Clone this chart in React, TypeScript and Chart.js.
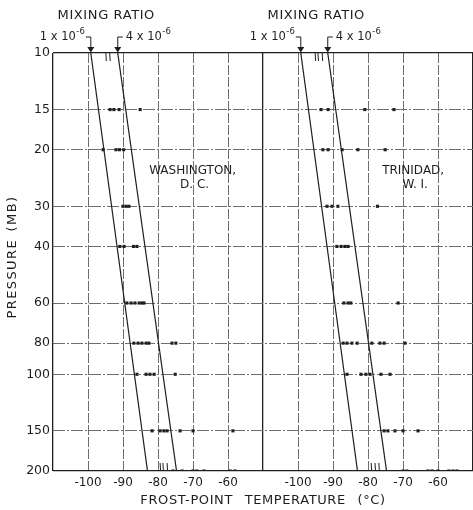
import React, { useEffect, useRef } from 'react';
import { Chart, registerables } from 'chart.js';

Chart.register(...registerables);

// ---------- data ----------
const pressureLevels = [10, 15, 20, 30, 40, 60, 80, 100, 150, 200];
const tempTicks = [-100, -90, -80, -70, -60];
const PANEL_MIN = -110;
const PANEL_SPAN = 60;

const xTitle = 'FROST-POINT TEMPERATURE (°C)';
const yTitle = 'PRESSURE (MB)';
const mixingTitle = 'MIXING RATIO';
const panelNames = [
  ['WASHINGTON,', 'D. C.'],
  ['TRINIDAD,', 'W. I.'],
];

// constant mixing-ratio lines: temperature at 10 mb and at 200 mb
const mixingPressures = [10, 200];
const ratio1Temps = [-99.2, -83.0];
const ratio4Temps = [-91.5, -74.7];

// short intermediate mixing-ratio marks at top / bottom borders
const topMarks = [
  [-94.9, -93.8],
  [-95.1, -94.3, -93.1],
];
const bottomMarks = [
  [-79.4, -78.6, -77.4],
  [-79.1, -78.0, -76.9],
];

// observations [pressure mb, frost point °C]
const washingtonObs: [number, number][] = [
  [15, -93.7], [15, -92.6], [15, -91.1], [15, -85.1],
  [20, -95.7], [20, -92.0], [20, -91.0], [20, -89.8],
  [30, -90.0], [30, -89.1], [30, -88.3],
  [40, -90.9], [40, -89.7], [40, -87.0], [40, -86.0],
  [60, -88.9], [60, -87.7], [60, -86.6], [60, -85.4], [60, -84.6], [60, -84.0],
  [80, -86.9], [80, -85.7], [80, -84.6], [80, -83.4], [80, -82.6], [80, -76.0], [80, -74.9],
  [100, -86.0], [100, -83.4], [100, -82.3], [100, -81.1], [100, -75.1],
  [150, -81.7], [150, -79.4], [150, -78.3], [150, -77.4], [150, -73.7], [150, -70.0], [150, -58.6],
  [200, -75.7], [200, -73.1], [200, -70.0], [200, -68.9], [200, -66.9], [200, -59.4], [200, -58.0],
];

const trinidadObs: [number, number][] = [
  [15, -93.4], [15, -91.4], [15, -80.9], [15, -72.6],
  [20, -92.9], [20, -91.4], [20, -87.4], [20, -82.9], [20, -75.1],
  [30, -91.7], [30, -90.3], [30, -88.6], [30, -77.3],
  [40, -88.9], [40, -87.7], [40, -86.6], [40, -85.7],
  [60, -86.9], [60, -85.7], [60, -84.9], [60, -71.4],
  [80, -87.1], [80, -86.0], [80, -84.6], [80, -83.1], [80, -78.9], [80, -76.6], [80, -75.4], [80, -69.4],
  [100, -86.0], [100, -82.0], [100, -80.6], [100, -79.4], [100, -76.3], [100, -73.7],
  [150, -75.4], [150, -74.3], [150, -72.3], [150, -70.0], [150, -65.7],
  [200, -70.0], [200, -68.9], [200, -62.9], [200, -61.7], [200, -60.0], [200, -56.9], [200, -55.7], [200, -54.6],
];

const panelObs = [washingtonObs, trinidadObs];

// ---------- helpers ----------
const toU = (t: number, panel: number) => t - PANEL_MIN + panel * PANEL_SPAN;
const INK = '#1e1e1e';
const GRID = '#6e6e6e';
const FONT = '"DejaVu Sans", sans-serif';

const xTickValues = [0, PANEL_SPAN, 2 * PANEL_SPAN]
  .concat(tempTicks.map((t) => toU(t, 0)))
  .concat(tempTicks.map((t) => toU(t, 1)))
  .sort((a, b) => a - b);

const isXFrame = (c: any) => c.tick && c.tick.value % PANEL_SPAN === 0;
const isYFrame = (c: any) => c.tick && (c.tick.value === 10 || c.tick.value === 200);

function spaced(ctx: any, letter: string, word: string) {
  ctx.letterSpacing = letter;
  ctx.wordSpacing = word;
}

function drawSci(ctx: CanvasRenderingContext2D, mant: string, x: number, base: number, align: 'left' | 'right') {
  const main = `${mant} x 10`;
  const sup = '-6';
  ctx.font = `11.5px ${FONT}`;
  const wm = ctx.measureText(main).width;
  ctx.font = `8.5px ${FONT}`;
  const ws = ctx.measureText(sup).width;
  const start = align === 'right' ? x - wm - ws - 0.5 : x;
  ctx.textAlign = 'left';
  ctx.textBaseline = 'alphabetic';
  ctx.font = `11.5px ${FONT}`;
  ctx.fillText(main, start, base);
  ctx.font = `8.5px ${FONT}`;
  ctx.fillText(sup, start + wm + 0.5, base - 6);
}

const annotate = {
  id: 'annotate',
  afterDraw(chart: any) {
    const { ctx, chartArea: a, scales } = chart;
    const xs = scales.x;
    const ys = scales.y;
    ctx.save();
    ctx.fillStyle = INK;
    ctx.strokeStyle = INK;

    // axis titles
    ctx.font = `13px ${FONT}`;
    ctx.textAlign = 'center';
    ctx.textBaseline = 'middle';
    spaced(ctx, '0.6px', '7px');
    ctx.fillText(xTitle, (a.left + a.right) / 2, a.bottom + 30);
    ctx.save();
    ctx.translate(13, (a.top + a.bottom) / 2 - 5);
    ctx.rotate(-Math.PI / 2);
    spaced(ctx, '1.4px', '2px');
    ctx.fillText(yTitle, 0, 0);
    ctx.restore();
    spaced(ctx, '0px', '0px');

    const top = a.top;
    const bottom = a.bottom;
    const labelT = [-70.1, -67.1];

    for (let panel = 0; panel < 2; panel++) {
      const x1 = xs.getPixelForValue(toU(ratio1Temps[0], panel));
      const x4 = xs.getPixelForValue(toU(ratio4Temps[0], panel));

      // arrows and brackets
      ctx.lineWidth = 1;
      for (const x of [x1, x4]) {
        ctx.beginPath();
        ctx.moveTo(x - 3.5, top - 6);
        ctx.lineTo(x + 3.5, top - 6);
        ctx.lineTo(x, top - 0.5);
        ctx.closePath();
        ctx.fill();
        ctx.beginPath();
        ctx.moveTo(x, top - 16);
        ctx.lineTo(x, top - 6);
        ctx.stroke();
      }
      ctx.beginPath();
      ctx.moveTo(x1 - 5, top - 16);
      ctx.lineTo(x1, top - 16);
      ctx.moveTo(x4, top - 16);
      ctx.lineTo(x4 + 5, top - 16);
      ctx.stroke();

      drawSci(ctx, '1', x1 - 6, top - 13, 'right');
      drawSci(ctx, '4', x4 + 8, top - 13, 'left');

      ctx.font = `13px ${FONT}`;
      ctx.textAlign = 'center';
      ctx.textBaseline = 'middle';
      spaced(ctx, '0.6px', '0px');
      ctx.fillText(mixingTitle, (x1 + x4) / 2 + 2, top - 37);
      spaced(ctx, '0px', '0px');

      // intermediate marks
      ctx.lineWidth = 1;
      for (const t of topMarks[panel]) {
        const x = xs.getPixelForValue(toU(t, panel));
        ctx.beginPath();
        ctx.moveTo(x, top);
        ctx.lineTo(x + 0.5, top + 8);
        ctx.stroke();
      }
      for (const t of bottomMarks[panel]) {
        const x = xs.getPixelForValue(toU(t, panel));
        ctx.beginPath();
        ctx.moveTo(x, bottom - 8);
        ctx.lineTo(x + 0.5, bottom);
        ctx.stroke();
      }

      // panel names
      const cx = xs.getPixelForValue(toU(labelT[panel], panel));
      const cy = ys.getPixelForValue(24.5);
      ctx.font = `12px ${FONT}`;
      ctx.textAlign = 'center';
      ctx.textBaseline = 'middle';
      ctx.fillText(panelNames[panel][0], cx, cy - 7);
      ctx.fillText(panelNames[panel][1], cx + 2, cy + 7);
    }
    ctx.restore();
  },
};

export default function App() {
  const ref = useRef<HTMLCanvasElement | null>(null);

  useEffect(() => {
    const canvas = ref.current;
    if (!canvas) return;

    const datasets: any[] = [];
    for (let panel = 0; panel < 2; panel++) {
      for (const temps of [ratio1Temps, ratio4Temps]) {
        datasets.push({
          type: 'line',
          data: mixingPressures.map((p, i) => ({ x: toU(temps[i], panel), y: p })),
          borderColor: INK,
          borderWidth: 1.2,
          pointRadius: 0,
          fill: false,
        });
      }
      datasets.push({
        type: 'scatter',
        data: panelObs[panel].map(([p, t]) => ({ x: toU(t, panel), y: p })),
        pointStyle: 'rect',
        pointRadius: 2.2,
        backgroundColor: INK,
        borderWidth: 0,
      });
    }

    const chart = new Chart(canvas, {
      type: 'scatter',
      data: { datasets },
      options: {
        responsive: false,
        animation: false,
        devicePixelRatio: 1,
        layout: { autoPadding: false, padding: { top: 53, left: 0, right: 0, bottom: 0 } },
        plugins: { legend: { display: false }, tooltip: { enabled: false } },
        scales: {
          x: {
            type: 'linear',
            min: 0,
            max: 2 * PANEL_SPAN,
            afterBuildTicks: (s: any) => {
              s.ticks = xTickValues.map((v) => ({ value: v }));
            },
            afterFit: (s: any) => {
              s.height = 39;
              s.paddingLeft = 0;
              s.paddingRight = 0;
            },
            ticks: {
              autoSkip: false,
              maxRotation: 0,
              padding: 0,
              color: INK,
              font: { family: 'DejaVu Sans', size: 12, lineHeight: 1.2 },
              callback: (v: any) => {
                const r = Number(v) % PANEL_SPAN;
                const t = PANEL_MIN + r;
                return r !== 0 && tempTicks.includes(t) ? String(t) : '';
              },
            },
            grid: {
              drawTicks: true,
              tickLength: 5,
              tickColor: 'rgba(0,0,0,0)',
              color: (c: any) => (isXFrame(c) ? INK : GRID),
              lineWidth: (c: any) => (isXFrame(c) ? 1.3 : 1),
            },
            border: {
              display: false,
              dash: (c: any) => (isXFrame(c) ? [] : [10, 2]),
            },
          },
          y: {
            type: 'logarithmic',
            reverse: true,
            min: 10,
            max: 200,
            afterBuildTicks: (s: any) => {
              s.ticks = pressureLevels.map((v) => ({ value: v }));
            },
            afterFit: (s: any) => {
              s.width = 53;
              s.paddingTop = 0;
              s.paddingBottom = 0;
            },
            ticks: {
              autoSkip: false,
              padding: 3,
              color: INK,
              font: { family: 'DejaVu Sans', size: 12.5 },
              callback: (v: any) => String(v),
            },
            grid: {
              drawTicks: false,
              color: (c: any) => (isYFrame(c) ? INK : GRID),
              lineWidth: (c: any) => (isYFrame(c) ? 1.3 : 1),
            },
            border: {
              display: false,
              dash: (c: any) => (isYFrame(c) ? [] : [12, 2, 2, 2]),
            },
          },
        },
      },
      plugins: [annotate],
    } as any);

    return () => chart.destroy();
  }, []);

  return (
    <div style={{ position: 'absolute', left: 0, top: 0, width: 473, height: 510, background: '#fff' }}>
      <canvas ref={ref} width={473} height={510} style={{ display: 'block' }} />
    </div>
  );
}
